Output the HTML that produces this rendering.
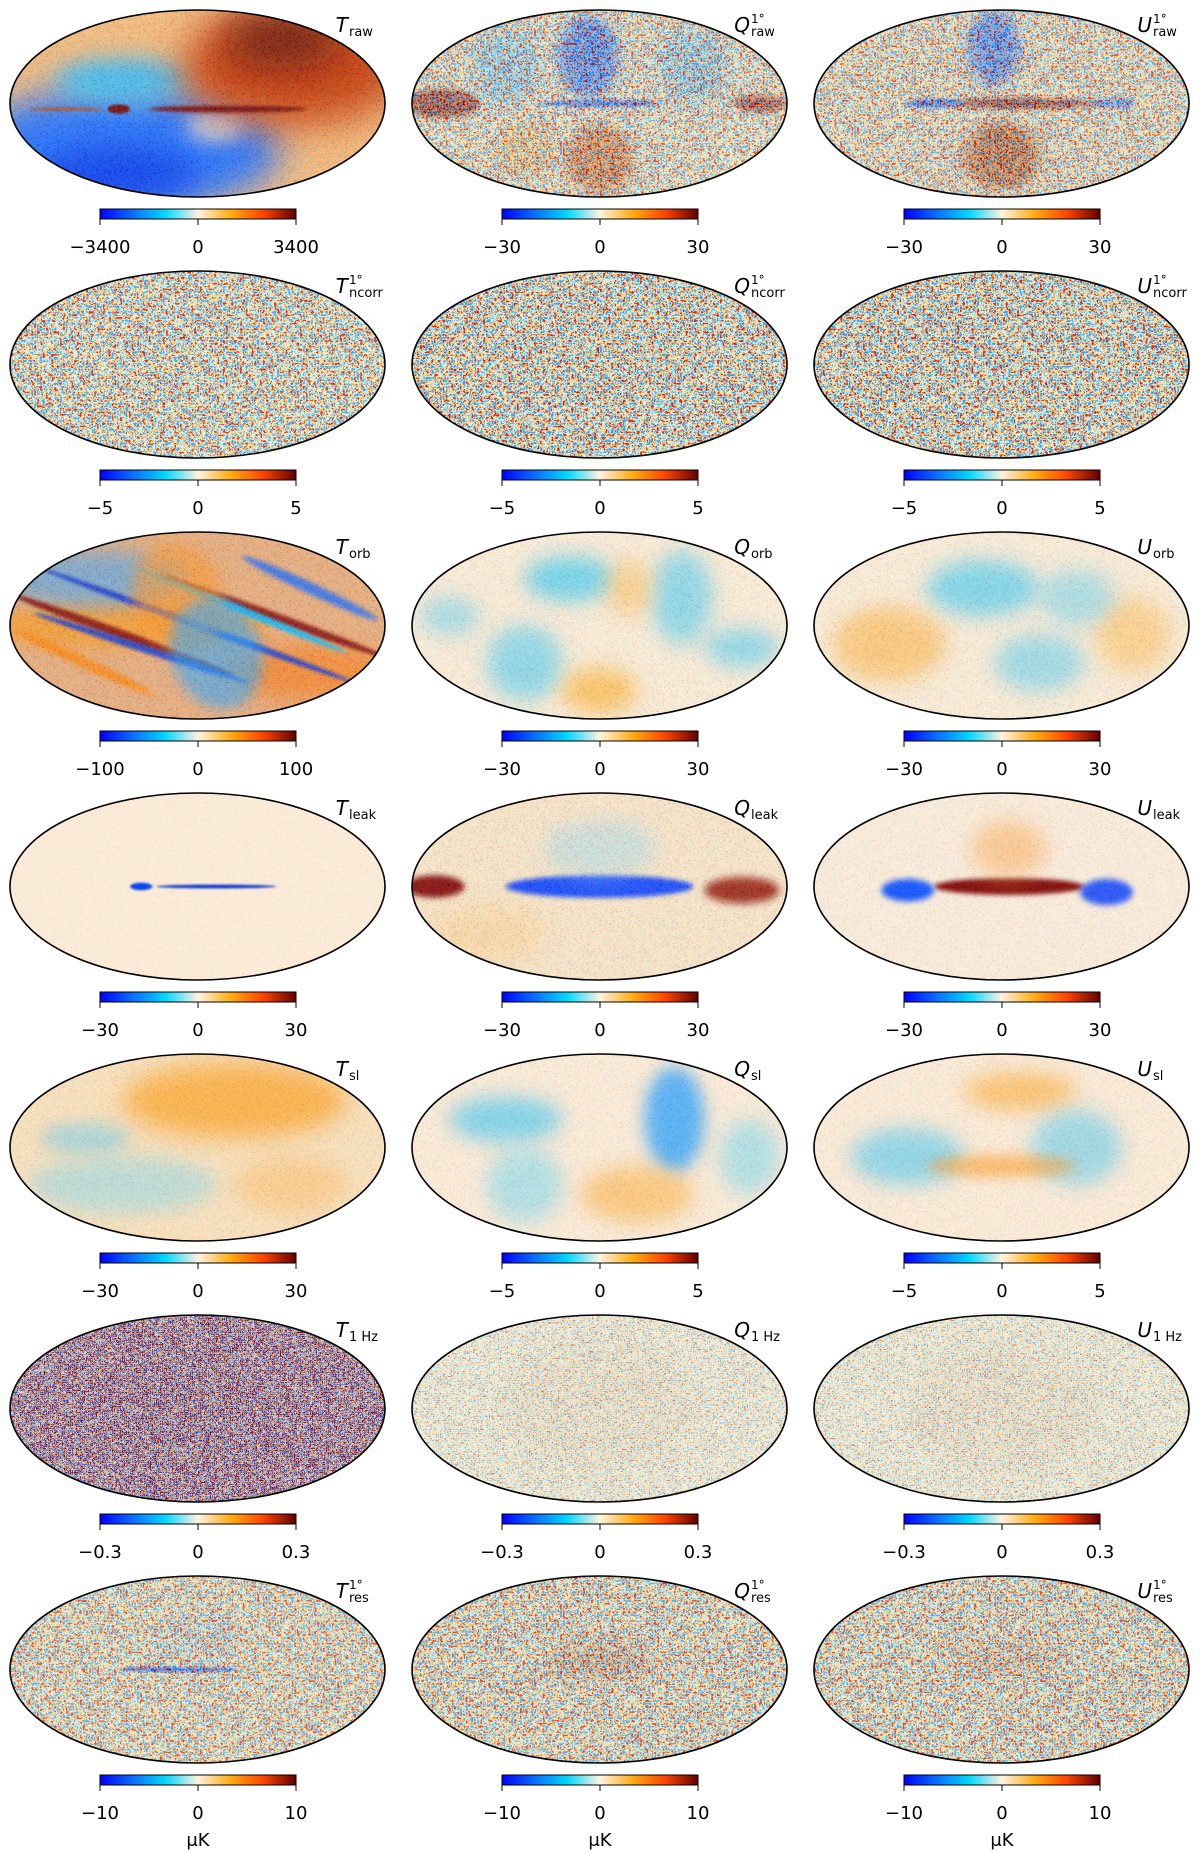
<!DOCTYPE html>
<html><head><meta charset="utf-8">
<style>
html,body{margin:0;padding:0;background:#fff;}
svg{display:block;font-family:"DejaVu Sans","Liberation Sans",sans-serif;}
</style></head>
<body>
<svg id="fig" width="1200" height="1854" viewBox="0 0 1200 1854" xmlns="http://www.w3.org/2000/svg">
<defs>
<linearGradient id="cmap" x1="0" x2="1" y1="0" y2="0">
<stop offset="0" stop-color="#0000ff"/>
<stop offset="0.17" stop-color="#0a70ff"/>
<stop offset="0.33" stop-color="#00d6ff"/>
<stop offset="0.5" stop-color="#fff3e0"/>
<stop offset="0.67" stop-color="#ffaa10"/>
<stop offset="0.83" stop-color="#ff4500"/>
<stop offset="1" stop-color="#600000"/>
</linearGradient>
<filter id="noise" x="0" y="0" width="100%" height="100%">
<feTurbulence type="fractalNoise" baseFrequency="0.45" numOctaves="2" seed="3"/>
<feColorMatrix type="saturate" values="0"/>
<feComponentTransfer><feFuncR type="linear" slope="3" intercept="-1"/><feFuncG type="linear" slope="3" intercept="-1"/><feFuncB type="linear" slope="3" intercept="-1"/></feComponentTransfer>
<feComponentTransfer>
<feFuncR type="table" tableValues="0 0.15 1 1 0.5"/>
<feFuncG type="table" tableValues="0.25 0.8 0.95 0.6 0"/>
<feFuncB type="table" tableValues="1 1 0.85 0.1 0"/>
<feFuncA type="table" tableValues="1 1"/>
</feComponentTransfer>
</filter>
<filter id="noiseStrong" x="0" y="0" width="100%" height="100%">
<feTurbulence type="fractalNoise" baseFrequency="0.35" numOctaves="2" seed="5"/>
<feColorMatrix type="saturate" values="0"/>
<feComponentTransfer><feFuncR type="linear" slope="4.5" intercept="-1.75"/><feFuncG type="linear" slope="4.5" intercept="-1.75"/><feFuncB type="linear" slope="4.5" intercept="-1.75"/></feComponentTransfer>
<feComponentTransfer>
<feFuncR type="table" tableValues="0 0.1 0.3 1 1 1 0.6"/>
<feFuncG type="table" tableValues="0.3 0.6 0.85 0.95 0.7 0.35 0"/>
<feFuncB type="table" tableValues="1 1 1 0.85 0.15 0 0"/>
<feFuncA type="table" tableValues="1 1"/>
</feComponentTransfer>
</filter>
<filter id="noiseDark" x="0" y="0" width="100%" height="100%">
<feTurbulence type="fractalNoise" baseFrequency="0.5" numOctaves="2" seed="7"/>
<feColorMatrix type="saturate" values="0"/>
<feComponentTransfer><feFuncR type="linear" slope="5" intercept="-2"/><feFuncG type="linear" slope="5" intercept="-2"/><feFuncB type="linear" slope="5" intercept="-2"/></feComponentTransfer>
<feComponentTransfer>
<feFuncR type="table" tableValues="0.05 0.1 0.9 1 0.45"/>
<feFuncG type="table" tableValues="0.05 0.5 0.9 0.45 0"/>
<feFuncB type="table" tableValues="0.55 1 0.85 0.05 0"/>
<feFuncA type="table" tableValues="1 1"/>
</feComponentTransfer>
</filter>
</defs>
</svg>
<script>
// ---- data ----
const titleLetters = ["T","Q","U"];
const rowSubs = ["raw","ncorr","orb","leak","sl","1 Hz","res"];
const rowSups = [[ "", "1°", "1°"],["1°","1°","1°"],["","",""],["","",""],["","",""],["","",""],["1°","1°","1°"]];
const tickMax = [[3400,30,30],[5,5,5],[100,30,30],[30,30,30],[30,5,5],[0.3,0.3,0.3],[10,10,10]];
const unitLabel = "μK";
const mapBase = [
 ["#f6b878","#f4e0c8","#f6dcc0"],
 ["#fbe6cc","#f6dcc4","#f6dcc4"],
 ["#e8a878","#fcecd8","#fcecd8"],
 ["#fdebd8","#fbe4c8","#fcecdc"],
 ["#fbe0bc","#fdebd8","#fdebd8"],
 ["#6a3a70","#f8ecd8","#f8ecd8"],
 ["#f8e2c4","#f6dec2","#f6dec2"]
];
const mapNoiseKind = [
 ["noise","noiseStrong","noiseStrong"],["noiseStrong","noiseStrong","noiseStrong"],["noise","noise","noise"],["noise","noise","noise"],["noise","noise","noise"],["noiseDark","noise","noise"],["noiseStrong","noiseStrong","noiseStrong"]
];
const mapNoise = [
 [0.15,0.6,0.6],[0.75,0.8,0.8],[0.15,0.12,0.12],[0.05,0.15,0.1],[0.1,0.1,0.1],[0.9,0.45,0.45],[0.6,0.65,0.65]
];
// blobs [cx,cy,rx,ry,colour,opacity,blur,angle]
const mapBlobs = [
 [[[0.3,0.75,0.42,0.33,"#1a6cff",1,18],[0.28,0.88,0.22,0.15,"#0038f0",1,15],[0.3,0.38,0.18,0.12,"#3cb8f0",1,12],[0.55,0.62,0.08,0.08,"#ffe8d0",0.8,10],[0.76,0.3,0.3,0.32,"#c83400",1,20],[0.73,0.16,0.16,0.15,"#701000",1,18],[0.58,0.53,0.21,0.018,"#700000",1,1.5],[0.29,0.53,0.03,0.025,"#700000",1,1],[0.15,0.53,0.1,0.01,"#b04010",0.8,1]],
  [[0.08,0.5,0.1,0.08,"#800000",1,3],[0.5,0.5,0.16,0.018,"#0030f0",1,1.5],[0.47,0.25,0.08,0.22,"#1050ff",0.9,6],[0.5,0.8,0.09,0.18,"#d04000",0.8,6],[0.93,0.5,0.07,0.05,"#900000",0.9,3],[0.25,0.3,0.09,0.2,"#40a8ff",0.55,8],[0.75,0.3,0.09,0.2,"#40a8ff",0.55,8],[0.3,0.75,0.08,0.15,"#ff8a10",0.4,8]],
  [[0.55,0.5,0.2,0.03,"#800000",1,2],[0.48,0.2,0.07,0.2,"#1050ff",0.9,6],[0.5,0.78,0.1,0.18,"#b03000",0.9,6],[0.32,0.5,0.08,0.025,"#0030f0",0.9,1.5],[0.8,0.5,0.06,0.025,"#1050ff",0.8,1.5]]],
 [[],[],[]],
 [[[0.3,0.5,0.4,0.12,"#ff9000",0.6,8],[0.22,0.25,0.25,0.15,"#30a0ff",0.6,10],[0.8,0.75,0.22,0.15,"#ff7000",0.6,10],
   [0.3,0.55,0.32,0.025,"#800000",0.9,1.5,20],[0.5,0.5,0.45,0.02,"#1030d0",0.9,1.5,20],[0.7,0.45,0.32,0.025,"#800000",0.9,1.5,20],[0.35,0.62,0.3,0.02,"#1030d0",0.9,1.5,18],[0.62,0.42,0.3,0.02,"#00b8ff",0.9,1.5,22],[0.2,0.7,0.2,0.03,"#ff8000",0.8,2,25],[0.8,0.3,0.2,0.03,"#1060ff",0.8,2,25],[0.45,0.35,0.12,0.3,"#ff9020",0.6,6,-20],[0.55,0.65,0.12,0.3,"#20a0ff",0.6,6,-20]],
  [[0.42,0.25,0.12,0.12,"#50ccf0",0.8,10],[0.3,0.7,0.1,0.2,"#60cff0",0.7,10],[0.5,0.85,0.1,0.12,"#ffb030",0.7,10],[0.72,0.35,0.08,0.25,"#60cff0",0.7,10],[0.88,0.62,0.1,0.1,"#60cff0",0.7,10],[0.1,0.45,0.08,0.1,"#70d0f0",0.6,10],[0.58,0.3,0.06,0.15,"#ffc060",0.6,10]],
  [[0.45,0.3,0.15,0.15,"#60cff0",0.8,10],[0.2,0.6,0.15,0.2,"#ffb040",0.6,10],[0.6,0.7,0.12,0.15,"#60cff0",0.6,10],[0.85,0.55,0.1,0.2,"#ffc060",0.6,10],[0.7,0.35,0.1,0.15,"#60cff0",0.5,10]]],
 [[[0.35,0.5,0.03,0.02,"#0040f0",1,1],[0.55,0.5,0.16,0.01,"#0030d0",1,1]],
  [[0.5,0.5,0.25,0.06,"#0a40ff",1,2.5],[0.06,0.5,0.08,0.06,"#800000",1,3],[0.88,0.52,0.1,0.07,"#901000",0.9,4],[0.5,0.3,0.15,0.15,"#a0d8f0",0.5,10],[0.2,0.75,0.15,0.15,"#ffd090",0.6,12]],
  [[0.52,0.5,0.2,0.045,"#800000",1,2.5],[0.25,0.52,0.07,0.06,"#0a50ff",1,3],[0.78,0.53,0.07,0.07,"#0a40ff",0.9,3],[0.52,0.3,0.1,0.15,"#ffb060",0.6,10]]],
 [[[0.6,0.25,0.3,0.2,"#ffa020",0.75,12],[0.3,0.7,0.25,0.15,"#80d8f0",0.5,10],[0.75,0.7,0.15,0.15,"#ffc070",0.6,10],[0.2,0.45,0.12,0.08,"#60c8f0",0.5,8]],
  [[0.25,0.35,0.15,0.12,"#60ccf0",0.8,10],[0.7,0.35,0.08,0.28,"#2aa0ff",0.8,8],[0.6,0.75,0.15,0.15,"#ffb040",0.6,10],[0.3,0.7,0.1,0.2,"#80d8f0",0.6,10],[0.9,0.55,0.08,0.2,"#80d8f0",0.6,10]],
  [[0.55,0.2,0.15,0.1,"#ffb040",0.7,10],[0.25,0.55,0.15,0.15,"#60ccf0",0.7,10],[0.7,0.5,0.12,0.2,"#60ccf0",0.6,10],[0.5,0.6,0.2,0.06,"#ff9a20",0.6,6]]],
 [[[0.45,0.5,0.25,0.35,"#30104a",0.7,20],[0.25,0.35,0.1,0.2,"#d0a0a0",0.25,15]],
  [[0.5,0.5,0.25,0.35,"#e8c0a0",0.3,15]],
  [[0.5,0.5,0.25,0.35,"#e8c0a0",0.3,15]]],
 [[[0.45,0.5,0.16,0.014,"#0020e0",1,1],[0.5,0.35,0.12,0.12,"#a0b8e0",0.4,10]],
  [[0.5,0.45,0.14,0.1,"#c06040",0.5,8]],
  [[0.5,0.45,0.14,0.08,"#c06040",0.4,8]]]
];
// ---- layout ----
const svg = document.getElementById('fig');
const NS = "http://www.w3.org/2000/svg";
const colX = c => 10 + c*402;
const rowY = r => 10 + r*261;
const W = 375, H = 187;
function mk(tag, attrs, parent){const e=document.createElementNS(NS,tag);for(const k in attrs)e.setAttribute(k,attrs[k]);(parent||svg).appendChild(e);return e;}
let fid=0;
for(let r=0;r<7;r++){
 for(let c=0;c<3;c++){
  const x0=colX(c), y0=rowY(r);
  const g=mk('g',{});
  
  
  const cid='clip'+r+'_'+c;
  const cp=mk('clipPath',{id:cid},g);
  mk('ellipse',{cx:x0+W/2,cy:y0+H/2,rx:W/2,ry:H/2},cp);
  const m=mk('g',{'clip-path':'url(#'+cid+')'},g);
  
  
  mk('rect',{x:x0,y:y0,width:W,height:H,fill:mapBase[r][c]},m);
  mapBlobs[r][c].forEach(b=>{
   const id='bl'+(fid++);
   const f=mk('filter',{id:id,x:'-50%',y:'-50%',width:'200%',height:'200%'},m);
   mk('feGaussianBlur',{stdDeviation:b[6]},f);
   const cx=x0+b[0]*W, cy=y0+b[1]*H;
   const at={cx:cx,cy:cy,rx:b[2]*W,ry:b[3]*H,fill:b[4],opacity:b[5],filter:'url(#'+id+')'};
   if(b[7]) at.transform='rotate('+b[7]+' '+cx+' '+cy+')';
   const e=mk('ellipse',at,m);
   
   
  });
  const nz=mk('rect',{x:x0,y:y0,width:W,height:H,filter:'url(#'+mapNoiseKind[r][c]+')',opacity:mapNoise[r][c]},m);
  
  
  const outline=mk('ellipse',{cx:x0+W/2,cy:y0+H/2,rx:W/2,ry:H/2,fill:'none',stroke:'#000','stroke-width':1.6},g);
  
  
  const tx=x0+338, ty=y0+22;
  const t=mk('text',{x:tx,y:ty,'font-size':20,'font-style':'italic','text-anchor':'end',fill:'#000'},g);
  t.textContent=titleLetters[c];
  
  
  const s=mk('text',{x:tx+1,y:ty+4,'font-size':13,fill:'#000'},g);
  s.textContent=rowSubs[r];
  
  
  if(rowSups[r][c]){
   const sp=mk('text',{x:tx+1,y:ty-9,'font-size':12,fill:'#000'},g);
   sp.textContent=rowSups[r][c];
   
   
  }
  const cbx=x0+90, cbw=196, cby=y0+199;
  const cb=mk('rect',{x:cbx,y:cby,width:cbw,height:10,fill:'url(#cmap)',stroke:'#000','stroke-width':1},g);
  
  
  const tm=tickMax[r][c];
  const ticks=[-tm,0,tm];
  const scale=v=>cbx+(v+tm)/(2*tm)*cbw;
  ticks.forEach(v=>{
   const X=scale(v);
   const tl=mk('line',{x1:X,x2:X,y1:cby+10,y2:cby+16,stroke:'#000','stroke-width':1},g);
   
   
   const lb=mk('text',{x:X,y:y0+243,'font-size':18,'text-anchor':'middle',fill:'#000'},g);
   lb.textContent=(v<0?'−':'')+String(Math.abs(v));
   
   
  });
  if(r===6){
   const u=mk('text',{x:x0+188,y:y0+270,'font-size':18,'text-anchor':'middle',fill:'#000'},g);
   u.textContent=unitLabel;
   
   
  }
 }
}
</script>
</body></html>
